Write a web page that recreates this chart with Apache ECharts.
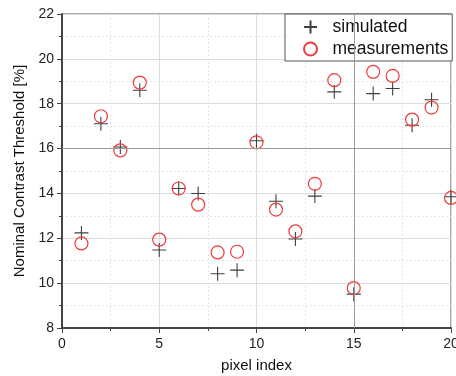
<!DOCTYPE html>
<html><head><meta charset="utf-8">
<script src="https://cdn.jsdelivr.net/npm/echarts@6/dist/echarts.min.js"></script>
<style>html,body{margin:0;padding:0;background:#fff}#c{width:456px;height:376px}</style>
</head><body><div id="c"></div>
<script>
const pixelIndex = [1,2,3,4,5,6,7,8,9,10,11,12,13,14,15,16,17,18,19,20];
const simulated = [12.24,17.11,16.07,18.6,11.48,14.22,14.0,10.42,10.58,16.35,13.65,11.97,13.88,18.53,9.51,18.45,18.68,17.04,18.18,13.85];
const measurements = [11.77,17.44,15.92,18.94,11.94,14.22,13.5,11.37,11.4,16.28,13.28,12.31,14.43,19.05,9.78,19.42,19.24,17.29,17.83,13.8];
const xTicks = [0,5,10,15,20];
const yTicks = [8,10,12,14,16,18,20,22];
const seriesNames = ['simulated','measurements'];

const FONT = 'Liberation Sans, Arial, sans-serif';
const chart = echarts.init(document.getElementById('c'), null, {renderer:'canvas'});
const plus = 'path://M0,5L10,5M5,0L5,10';
chart.setOption({
  animation:false,
  backgroundColor:'#fff',
  textStyle:{fontFamily:FONT},
  grid:{left:62,right:5,top:14,bottom:48,show:true,borderColor:'#555',borderWidth:1,backgroundColor:'transparent',outerBoundsMode:'none',containLabel:false},
  legend:{
    orient:'vertical', left:285, top:14, padding:[4,4,3,18],
    itemWidth:34, itemHeight:13, itemGap:4,
    backgroundColor:'#fff', borderColor:'#555', borderWidth:1,
    textStyle:{fontSize:17.5,color:'#111',fontFamily:FONT,padding:[0,0,0,0]},
    data:seriesNames
  },
  xAxis:{
    type:'value', min:xTicks[0], max:xTicks[xTicks.length-1], interval:5,
    name:'pixel index', nameLocation:'middle', nameGap:30,
    nameTextStyle:{fontSize:15,color:'#111',fontFamily:FONT},
    axisLine:{show:true,onZero:false,lineStyle:{color:'#444',width:2}},
    axisTick:{show:true,inside:false,length:5,lineStyle:{color:'#444'}},
    minorTick:{show:true,splitNumber:2,length:3,lineStyle:{color:'#444'}},
    axisLabel:{fontSize:14,color:'#222',margin:9,fontFamily:FONT,hideOverlap:false},
    splitLine:{show:true,lineStyle:{color:'#dcdcdc',width:1}},
    minorSplitLine:{show:true,lineStyle:{color:'#e6e6e6',type:[2,2]}}
  },
  yAxis:{
    type:'value', min:yTicks[0], max:yTicks[yTicks.length-1], interval:2,
    name:'Nominal Contrast Threshold [%]', nameLocation:'middle', nameGap:30,
    nameTextStyle:{fontSize:15,color:'#111',fontFamily:FONT},
    axisLine:{show:true,onZero:false,lineStyle:{color:'#444',width:2}},
    axisTick:{show:true,inside:false,length:5,lineStyle:{color:'#444'}},
    minorTick:{show:true,splitNumber:2,length:3,lineStyle:{color:'#444'}},
    axisLabel:{fontSize:14,color:'#222',margin:8,fontFamily:FONT},
    splitLine:{show:true,lineStyle:{color:'#dcdcdc',width:1}},
    minorSplitLine:{show:true,lineStyle:{color:'#e6e6e6',type:[2,2]}}
  },
  series:[
    {
      name:seriesNames[0], type:'scatter', symbol:plus, symbolSize:14,
      itemStyle:{color:'rgba(0,0,0,0)',borderColor:'#404040',borderWidth:1.1,opacity:1},
      data:pixelIndex.map((x,i)=>[x,simulated[i]]),
      markLine:{silent:true,symbol:'none',label:{show:false},
        lineStyle:{color:'#9a9a9a',width:1,type:'solid'},
        data:[{xAxis:15},{yAxis:16}]},
      z:3
    },
    {
      name:seriesNames[1], type:'scatter', symbol:'circle', symbolSize:13,
      itemStyle:{color:'rgba(0,0,0,0)',borderColor:'#f03a3a',borderWidth:1.2,opacity:1},
      data:pixelIndex.map((x,i)=>[x,measurements[i]]),
      z:4
    }
  ]
});
</script></body></html>
